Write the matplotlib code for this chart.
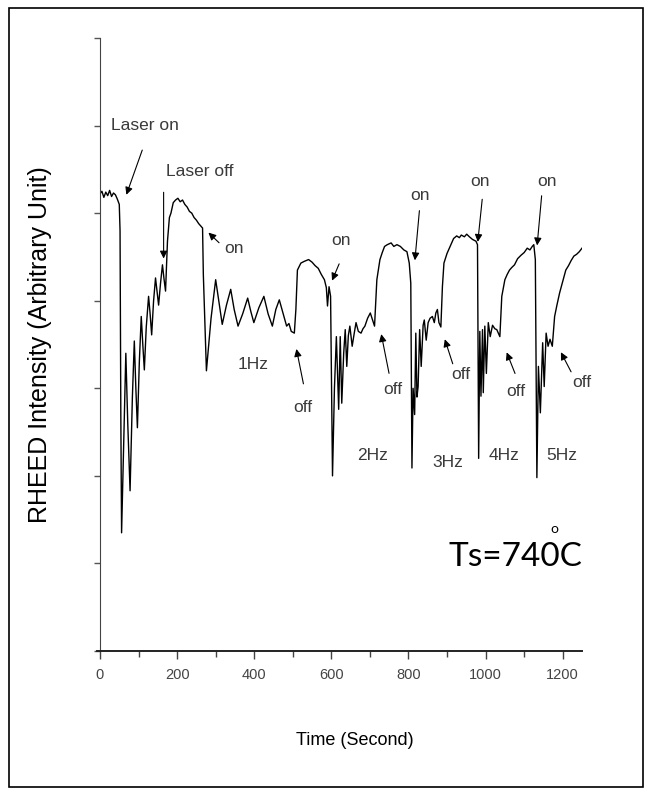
import numpy as np
import matplotlib.pyplot as plt
from matplotlib.patches import Rectangle
from matplotlib.ticker import MultipleLocator

# RHEED trace (time in s, intensity in tick units)
t_start = [0, 5, 10, 15, 20, 25, 30, 35, 40, 45, 50, 52, 54, 56,
           67, 72, 78, 84, 89, 93, 97, 102, 107, 111, 115, 120, 126, 130,
           134, 139, 144, 148, 152, 157, 162, 166, 170, 175, 180, 184, 190,
           196, 202, 208, 214, 220, 226, 232, 238, 244, 250, 256, 262, 266]
v_start = [5.22, 5.25, 5.18, 5.24, 5.20, 5.26, 5.19, 5.23, 5.21, 5.16, 5.10, 4.8, 2.7, 1.35,
           3.40, 2.6, 1.83, 2.9, 3.54, 3.0, 2.55, 3.3, 3.82, 3.5, 3.21, 3.7, 4.05, 3.85,
           3.61, 4.0, 4.26, 4.1, 3.95, 4.2, 4.41, 4.25, 4.11, 4.68, 4.95, 5.0, 5.12,
           5.15, 5.17, 5.13, 5.15, 5.10, 5.07, 5.02, 5.00, 4.95, 4.92, 4.88, 4.85, 4.83]

t_1hz = [268, 276, 288, 300, 308, 317, 328, 339, 348, 358, 370, 383, 391, 399,
         412, 425, 436, 447, 456, 465, 475, 484, 490, 496, 504, 508, 512, 521,
         530, 541, 550, 558, 566, 574, 582, 587, 590, 594, 598]
v_1hz = [4.3, 3.2, 3.8, 4.24, 4.0, 3.73, 3.95, 4.13, 3.9, 3.71, 3.85, 4.03, 3.88, 3.75,
         3.92, 4.05, 3.85, 3.71, 3.9, 4.01, 3.85, 3.71, 3.74, 3.65, 3.63, 3.9, 4.35, 4.43,
         4.45, 4.47, 4.44, 4.40, 4.37, 4.30, 4.24, 4.15, 3.94, 4.16, 4.05]

t_2hz = [603, 608, 613, 619, 623, 627, 632, 636, 640, 644, 648, 654, 659, 664,
         670, 677, 682, 687, 694, 701, 707, 712, 718, 726, 732, 738, 745, 755,
         762, 770, 779, 788, 796, 802, 806]
v_2hz = [2.0, 3.0, 3.59, 2.76, 3.59, 2.83, 3.4, 3.67, 3.25, 3.6, 3.71, 3.48, 3.62, 3.75,
         3.65, 3.63, 3.68, 3.71, 3.80, 3.86, 3.78, 3.71, 4.24, 4.47, 4.55, 4.62, 4.64, 4.66,
         4.62, 4.64, 4.62, 4.58, 4.56, 4.43, 4.2]

t_3hz = [809, 812, 816, 819, 822, 825, 829, 833, 838, 841, 846, 851, 856, 862,
         867, 871, 875, 879, 884, 888, 892, 900, 908, 917, 925, 932, 937, 945,
         951, 958, 966, 975, 979]
v_3hz = [2.09, 3.0, 2.7, 3.63, 2.9, 3.02, 3.67, 3.25, 3.72, 3.78, 3.55, 3.75, 3.80, 3.82,
         3.75, 3.86, 3.90, 3.75, 3.70, 4.16, 4.43, 4.54, 4.62, 4.71, 4.74, 4.72, 4.75, 4.73,
         4.76, 4.73, 4.70, 4.68, 4.64]

t_4hz = [982, 985, 988, 992, 994, 998, 1002, 1007, 1012, 1018, 1024, 1029, 1034, 1037,
         1042, 1050, 1056, 1062, 1068, 1075, 1083, 1092, 1100, 1108, 1115, 1121, 1125, 1129]
v_4hz = [2.2, 3.65, 2.91, 3.67, 2.95, 3.71, 3.17, 3.75, 3.59, 3.72, 3.68, 3.67, 3.62, 3.59,
         4.05, 4.24, 4.30, 4.35, 4.38, 4.41, 4.48, 4.52, 4.55, 4.60, 4.58, 4.62, 4.64, 4.47]

t_5hz = [1133, 1137, 1142, 1148, 1152, 1157, 1162, 1167, 1173, 1179, 1185, 1192, 1200,
         1208, 1215, 1222, 1229, 1236, 1243, 1250]
v_5hz = [1.98, 3.25, 2.72, 3.52, 3.02, 3.63, 3.48, 3.56, 3.48, 3.82, 3.95, 4.09, 4.22,
         4.35, 4.40, 4.46, 4.51, 4.53, 4.56, 4.60]

time = t_start + t_1hz + t_2hz + t_3hz + t_4hz + t_5hz
intensity = v_start + v_1hz + v_2hz + v_3hz + v_4hz + v_5hz

# annotations: text, text position (left, centre), arrow tail, arrow head
notes = [
    ("Laser on", (29, 6.0), (112, 5.75), (66, 5.18)),
    ("Laser off", (172, 5.48), (165, 5.27), (165, 4.45)),
    ("on", (321, 4.6), (314, 4.64), (276, 4.8)),
    ("off", (500, 2.78), (529, 3.02), (508, 3.48)),
    ("on", (599, 4.69), (623, 4.45), (599, 4.2)),
    ("off", (734, 2.99), (751, 3.14), (728, 3.65)),
    ("on", (804, 5.2), (829, 5.06), (816, 4.43)),
    ("off", (912, 3.16), (917, 3.25), (892, 3.59)),
    ("on", (960, 5.36), (992, 5.19), (979, 4.64)),
    ("off", (1054, 2.96), (1079, 3.14), (1052, 3.44)),
    ("on", (1135, 5.36), (1146, 5.23), (1133, 4.6)),
    ("off", (1225, 3.07), (1225, 3.16), (1192, 3.44)),
]
freq_labels = ["1Hz", "2Hz", "3Hz", "4Hz", "5Hz"]
freq_pos = [(358, 3.27), (668, 2.23), (862, 2.15), (1008, 2.23), (1158, 2.23)]

arial = ['Liberation Sans', 'DejaVu Sans']

fig = plt.figure(figsize=(6.51, 7.95), dpi=100)
ax = fig.add_axes([0.1536, 0.1811, 0.7404, 0.7711])

ax.plot(time, intensity, color='k', lw=1.0)

ax.set_xlim(0, 1250)
ax.set_ylim(0, 7)
ax.xaxis.set_major_locator(MultipleLocator(200))
ax.xaxis.set_minor_locator(MultipleLocator(100))
ax.yaxis.set_major_locator(MultipleLocator(1))
ax.set_yticklabels([])
ax.tick_params(axis='x', which='major', length=6, width=1, direction='out', colors='#444444', labelsize=10.5, pad=6)
ax.tick_params(axis='x', which='minor', length=4, width=1, direction='out', colors='#444444')
ax.tick_params(axis='y', length=4, width=1, direction='out', colors='#555555')
for lab in ax.get_xticklabels():
    lab.set_family(arial)
    lab.set_color('#444444')
for s in ['top', 'right']:
    ax.spines[s].set_visible(False)
ax.spines['left'].set_color('#444444')
ax.spines['bottom'].set_color('#222222')
ax.spines['bottom'].set_linewidth(1.4)
ax.spines['bottom'].set_bounds(-8, 1250)
ax.spines['bottom'].set_clip_on(False)

for txt, tpos, tail, head in notes:
    ax.text(tpos[0], tpos[1], txt, family=arial, fontsize=12.5, color='#3a3a3a', ha='left', va='center')
    ax.annotate('', xy=head, xytext=tail,
                arrowprops=dict(arrowstyle='-|>', color='k', lw=0.8, mutation_scale=11))
for lab, pos in zip(freq_labels, freq_pos):
    ax.text(pos[0], pos[1], lab, family=arial, fontsize=12.5, color='#3a3a3a', ha='left', va='center')

# Ts label with the degree sign sitting above, between 0 and C
lato = ['Lato', 'DejaVu Sans']
ts = ax.text(1250, 0.97, "Ts=740C", family=lato, fontsize=24, color='k', ha='right', va='baseline')
fig.canvas.draw()
r = fig.canvas.get_renderer()
bb_all = ts.get_window_extent(renderer=r)
cpart = ax.text(1250, 0.97, "C", family=lato, fontsize=24, ha='right', va='baseline', alpha=0)
bb_c = cpart.get_window_extent(renderer=r)
fig.text((bb_c.x0 - 5) / fig.bbox.width, (bb_all.y1 + 7) / fig.bbox.height, "o", family=lato,
         fontsize=10, ha='center', va='bottom')

fig.text(0.545, 0.069, "Time (Second)", family=arial, fontsize=13, ha='center', va='center')
fig.text(0.061, 0.566, "RHEED Intensity (Arbitrary Unit)", family=arial,
         fontsize=18, rotation=90, ha='center', va='center')

fig.patches.append(Rectangle((9 / 651, 8 / 795), 634 / 651, 779 / 795, transform=fig.transFigure,
                             fill=False, edgecolor='k', lw=1.2))

fig.savefig('out.png', dpi=100)
